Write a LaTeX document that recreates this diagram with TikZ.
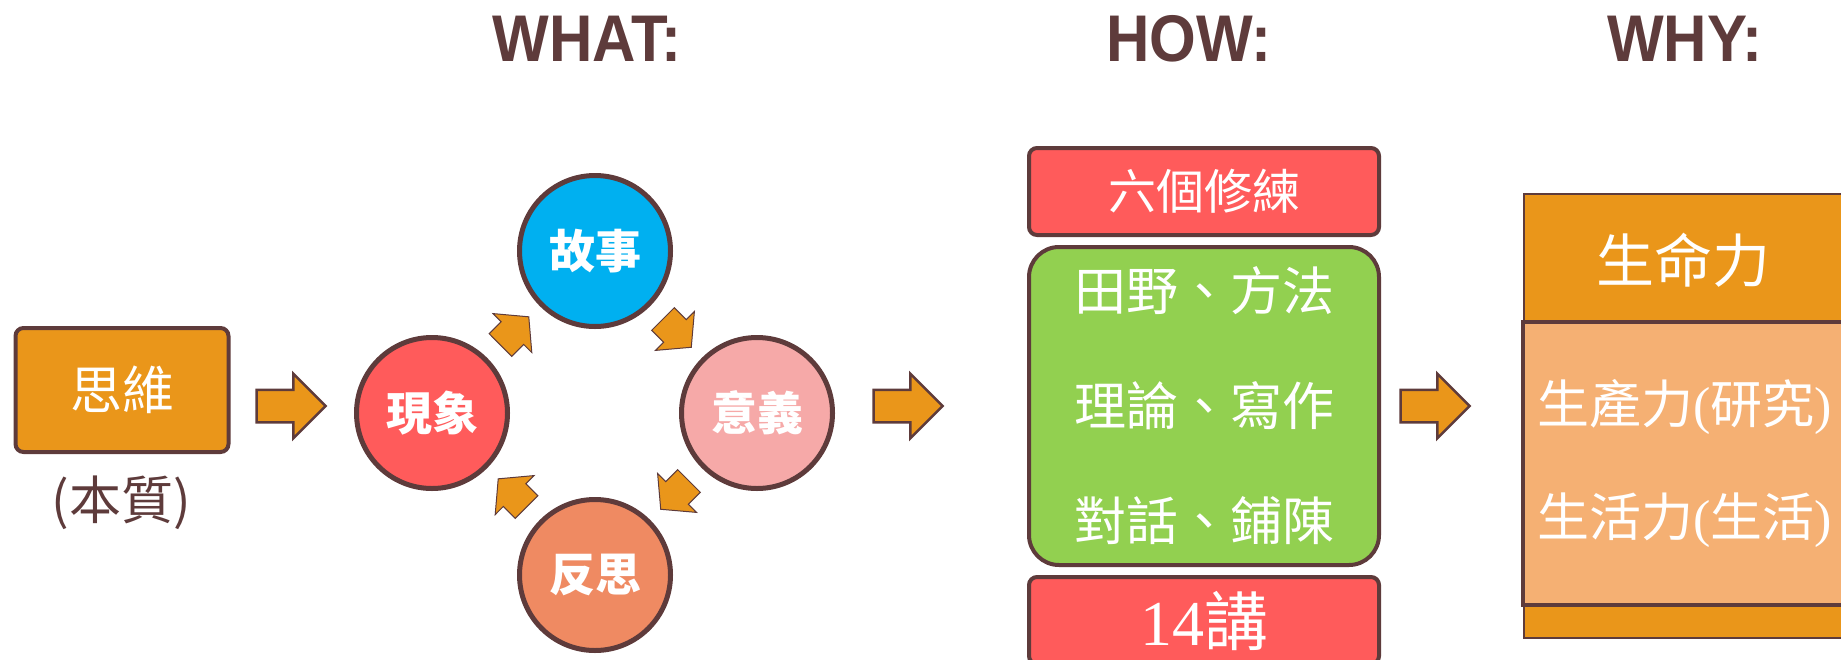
\documentclass[tikz,border=0pt]{standalone}
\usepackage{fontspec}
\setmainfont{Liberation Serif}
\newfontfamily\cjk{Noto Sans CJK TC}
\newfontfamily\titlefont{Liberation Sans}[FakeStretch=0.91]
\usetikzlibrary{shapes.arrows}

\definecolor{edge}{HTML}{5E3B3B}
\definecolor{orng}{HTML}{EA961A}
\definecolor{lorng}{HTML}{F5B073}
\definecolor{rd}{HTML}{FF5B5B}
\definecolor{bl}{HTML}{00B0F0}
\definecolor{pk}{HTML}{F6A9A8}
\definecolor{sal}{HTML}{EF8A62}
\definecolor{grn}{HTML}{92D050}

\begin{document}
\begin{tikzpicture}
		[x=1pt, y=-1pt, thick,
		main/.style = {draw=edge, circle, line width=5pt, minimum size=151pt, inner sep=0pt, text=white, font=\cjk\bfseries\fontsize{46}{46}\selectfont},
		box/.style = {draw=edge, rounded corners=8pt, line width=4pt, inner sep=0pt, text=white},
		bigarr/.style = {single arrow, draw=edge, fill=orng, line width=2.5pt, inner xsep=0pt, inner ysep=15pt, minimum height=69pt, single arrow head extend=16pt},
		smallarr/.style = {single arrow, draw=edge, fill=orng, line width=1pt, inner xsep=0pt, inner ysep=15.5pt, minimum height=40pt, single arrow head extend=11.5pt, single arrow tip angle=100, sloped, allow upside down, pos=0.43},
		title/.style = {text=edge, font=\titlefont\bfseries\fontsize{66}{66}\selectfont}]
	\useasboundingbox (0,0) rectangle (1841,659);
	% titles
	\node[title] (what) at (587,39) {WHAT:};
	\node[title] (howt) at (1189,39) {HOW:};
	\node[title] (why) at (1685,39) {WHY:};
	% left box
	\node[box, fill=orng, minimum width=213pt, minimum height=124pt, font=\cjk\fontsize{52}{52}\selectfont] (think) at (122,390) {思維};
	\node[text=edge, font=\cjk\fontsize{52}{52}\selectfont] (essence) at (121,503) {(本質)};
	\node[bigarr] (a1) at (283,406) {};
	% cycle
	\node[main, fill=rd] (phen) at (432,413) {現象};
	\node[main, fill=bl] (story) at (595,251) {故事};
	\node[main, fill=pk] (mean) at (757,413) {意義};
	\node[main, fill=sal] (refl) at (595,575) {反思};
	\path (phen) -- node[smallarr] {} (story);
	\path (story) -- node[smallarr] {} (mean);
	\path (mean) -- node[smallarr] {} (refl);
	\path (refl) -- node[smallarr] {} (phen);
	\node[bigarr] (a2) at (900,406) {};
	% how
	\node[box, fill=rd, minimum width=350pt, minimum height=87pt, font=\cjk\fontsize{48}{48}\selectfont] (six) at (1204,191.5) {六個修練};
	\node[box, fill=grn, rounded corners=30pt, minimum width=350pt, minimum height=318pt, align=center, font=\cjk\fontsize{52}{115}\selectfont] (how) at (1204,406) {田野、方法\\理論、寫作\\對話、鋪陳};
	\node[box, fill=rd, minimum width=350pt, minimum height=87pt, font=\fontsize{64}{64}\selectfont] (lect) at (1204,620.5) {14{\cjk 講}};
	\node[bigarr] (a3) at (1427,406) {};
	% why
	\node[draw=edge, fill=orng, line width=1.5pt, minimum width=376pt, minimum height=444pt] (life) at (1712,416) {};
	\node[draw=edge, fill=lorng, line width=4pt, minimum width=377pt, minimum height=283pt] (lifein) at (1711.5,463.5) {};
	\node[text=white, font=\cjk\fontsize{58}{58}\selectfont] (vital) at (1683,260) {生命力};
	\node[text=white, anchor=west, inner sep=0pt, font=\fontsize{52}{52}\selectfont] (prod) at (1537,407) {{\cjk 生產力}({\cjk 研究})};
	\node[text=white, anchor=west, inner sep=0pt, font=\fontsize{52}{52}\selectfont] (live) at (1537,520) {{\cjk 生活力}({\cjk 生活})};
	\end{tikzpicture}
\end{document}
